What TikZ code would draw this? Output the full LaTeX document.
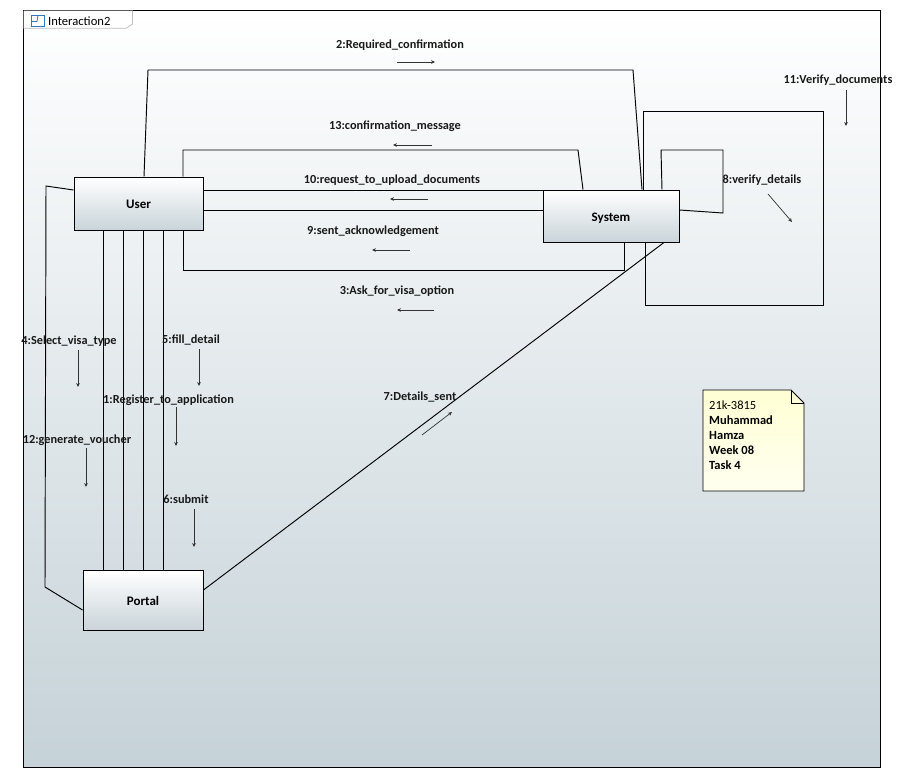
\documentclass[tikz,border=0pt]{standalone}
\usepackage{fontspec}
\setmainfont{Carlito}
\usetikzlibrary{arrows.meta}
\definecolor{framebot}{RGB}{197,210,216}
\definecolor{boxbot}{RGB}{201,212,218}
\definecolor{notetop}{RGB}{255,255,212}
\definecolor{notebot}{RGB}{255,255,240}
\definecolor{tabline}{RGB}{190,190,190}
\definecolor{iconblue}{RGB}{50,120,190}
\definecolor{msgcol}{RGB}{50,50,50}
\tikzset{
  lifebox/.style={draw=black, line width=0.9pt, top color=white, bottom color=boxbot,
    inner sep=0pt, text height=10.5pt, text depth=0pt, font=\fontsize{13}{15}\selectfont\bfseries},
  link/.style={draw=black, line width=0.95pt, line join=miter},
  msg/.style={draw=msgcol, line width=0.7pt, -{Stealth[length=4pt,width=3.6pt]}},
  msglabel/.style={inner sep=0pt, text height=9pt, text depth=0pt, text=black!90,
    font=\fontsize{12.3}{14}\selectfont\bfseries},
}
\begin{document}
\begin{tikzpicture}[x=1pt,y=-1pt]
\useasboundingbox (0,0) rectangle (916,777);
\fill[white] (0,0) rectangle (916,777);

% diagram frame with its name tab
\shade[top color=white, bottom color=framebot] (23,10) rectangle (880,767);
\draw[black, line width=0.9pt] (23,10) rectangle (880,767);
\fill[white] (23.5,10.5) -- (132.5,10.5) -- (132.5,24) -- (126,28.3) -- (23.5,28.3) -- cycle;
\draw[tabline, line width=0.7pt] (132.5,10.5) -- (132.5,24) -- (126,28.3) -- (23.5,28.3);
\draw[iconblue, line width=0.8pt] (31,15) rectangle (44.5,26.5);
\draw[iconblue, line width=0.8pt] (31,21.5) -- (37,21.5) -- (38,15);
\node[anchor=west, inner sep=0pt, font=\fontsize{12.6}{14}\selectfont] (title) at (48,21) {Interaction2};

% lifelines
\node[lifebox, minimum width=129pt, minimum height=53pt] (user) at (138.5,203.5) {User};
\node[lifebox, minimum width=136pt, minimum height=52pt] (system) at (611,216) {System};
\node[lifebox, minimum width=120pt, minimum height=60pt] (portal) at (143,600) {Portal};

% links between the lifelines
\draw[link] (144,0 |- user.north) -- (148,70) -- (633,70) -- (642,0 |- system.north);
\draw[link] (183,0 |- user.north) -- (183,150) -- (578,150) -- (583,0 |- system.north);
\draw[link] (user.east |- 0,190) -- (system.west |- 0,190);
\draw[link] (user.east |- 0,210) -- (system.west |- 0,210);
\draw[link] (183,0 |- user.south) -- (183,270) -- (624,270) -- (624,0 |- system.south);
\draw[link] (643,0 |- system.north) -- (643,111) -- (823,111) -- (823,305) -- (645,305) -- (645,0 |- system.south);
\draw[link] (662,0 |- system.north) -- (661,150) -- (723,150) -- (723,213) -- (system.east |- 0,210);
\draw[link] (portal.east |- 0,590) -- (664,0 |- system.south);
\foreach \lx in {103,123,143,163}
  \draw[link] (\lx,0 |- user.south) -- (\lx,0 |- portal.north);
\draw[link] (user.west |- 0,190) -- (46,186) -- (45,587) -- (portal.west |- 0,610);

% message labels and their direction arrows
\node[msglabel] (m2) at (400,44) {2:Required\_confirmation};
\draw[msg] (397,62) -- (435,62);
\node[msglabel] (m13) at (395,125) {13:confirmation\_message};
\draw[msg] (432,145) -- (393,145);
\node[msglabel] (m10) at (392,179) {10:request\_to\_upload\_documents};
\draw[msg] (428,199) -- (390,199);
\node[msglabel] (m9) at (373,230) {9:sent\_acknowledgement};
\draw[msg] (410,250) -- (372,250);
\node[msglabel] (m3) at (397,290) {3:Ask\_for\_visa\_option};
\draw[msg] (434,310) -- (397,310);
\node[msglabel] (m11) at (838,79) {11:Verify\_documents};
\draw[msg] (846,90) -- (846,126);
\node[msglabel] (m8) at (762,179) {8:verify\_details};
\draw[msg] (768,194) -- (792,222);
\node[msglabel] (m7) at (420,396) {7:Details\_sent};
\draw[msg] (422,435) -- (452,412);
\node[msglabel] (m4) at (69,340) {4:Select\_visa\_type};
\draw[msg] (78,350) -- (78,387);
\node[msglabel] (m5) at (191,339) {5:fill\_detail};
\draw[msg] (199,349) -- (199,386);
\node[msglabel] (m1) at (168.5,399) {1:Register\_to\_application};
\draw[msg] (176,407) -- (176,446);
\node[msglabel] (m12) at (77,439) {12:generate\_voucher};
\draw[msg] (86,448) -- (86,487);
\node[msglabel] (m6) at (186,499) {6:submit};
\draw[msg] (194,509) -- (194,547);

% note
\shade[top color=notetop, bottom color=notebot] (703,390) -- (791,390) -- (804,403) -- (804,491) -- (703,491) -- cycle;
\draw[black, line width=0.8pt] (703,390) -- (791,390) -- (804,403) -- (804,491) -- (703,491) -- cycle;
\draw[black, line width=0.6pt] (791,390) -- (791,403) -- (804,403);
\node[anchor=north west, inner sep=0pt, align=left, font=\fontsize{12.5}{15}\selectfont] (note) at (709,401)
  {21k-3815\\\textbf{Muhammad}\\\textbf{Hamza}\\\textbf{Week 08}\\\textbf{Task 4}};
\end{tikzpicture}
\end{document}
